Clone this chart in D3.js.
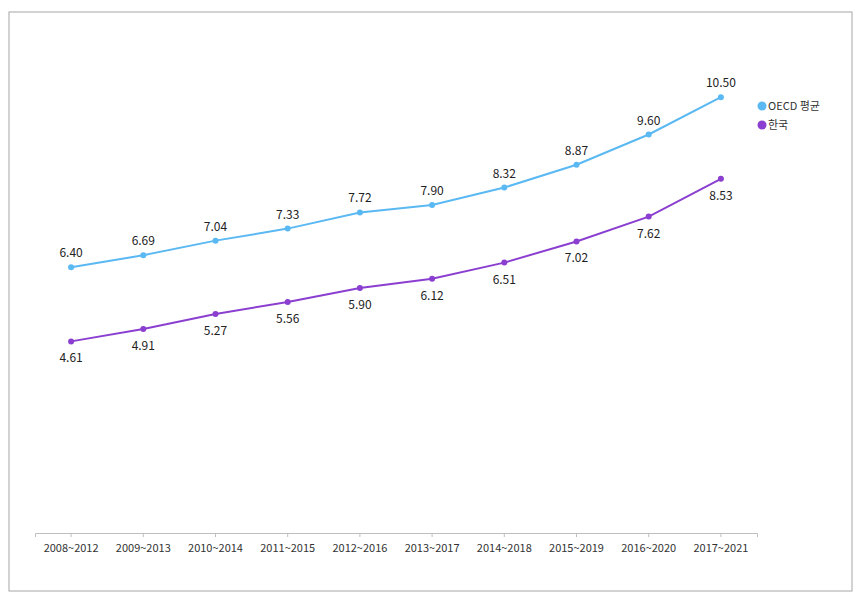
<!DOCTYPE html>
<html><head><meta charset="utf-8">
<script src="https://cdn.jsdelivr.net/npm/d3@7"></script>
<style>body{margin:0;background:#fff;}svg{display:block;}</style>
</head><body>
<svg id="c" width="860" height="596"></svg>
<script>
const categories = ["2008~2012","2009~2013","2010~2014","2011~2015","2012~2016","2013~2017","2014~2018","2015~2019","2016~2020","2017~2021"];
const oecd = [6.40,6.69,7.04,7.33,7.72,7.90,8.32,8.87,9.60,10.50];
const korea = [4.61,4.91,5.27,5.56,5.90,6.12,6.51,7.02,7.62,8.53];
const seriesNames = ["OECD 평균","한국"];
const colors = ["#5ab8f3","#8b3fd0"];

const svg = d3.select("#c");
const font = "'Malgun Gothic','Noto Sans CJK KR','Open Sans',sans-serif";
svg.append("rect").attr("x",9).attr("y",12).attr("width",843).attr("height",579)
  .attr("fill","#fff").attr("stroke","#a6a6a6").attr("stroke-width",1);

const x = d3.scaleBand().domain(categories).range([35,757]);
const y = d3.scaleLinear().domain([0,12]).range([532.5,35]);

const xAxis = svg.append("g").attr("transform","translate(0,533)")
  .call(d3.axisBottom(x).tickSize(4).tickPadding(7));
xAxis.select(".domain").attr("stroke","#bfbfbf");
xAxis.selectAll(".tick line").attr("stroke","#bfbfbf");
xAxis.selectAll("text").attr("font-family",font).attr("font-size","11px").attr("fill","#333");

const cx = d => x(d)+x.bandwidth()/2;
[oecd,korea].forEach((vals,i)=>{
  const line = d3.line().x((v,j)=>cx(categories[j])).y(v=>y(v));
  svg.append("path").datum(vals).attr("d",line).attr("fill","none")
    .attr("stroke",colors[i]).attr("stroke-width",2);
  svg.append("g").selectAll("circle").data(vals).join("circle")
    .attr("cx",(v,j)=>cx(categories[j])).attr("cy",v=>y(v)).attr("r",3)
    .attr("fill",colors[i]);
  svg.append("g").selectAll("text").data(vals).join("text")
    .attr("x",(v,j)=>cx(categories[j])).attr("y",v=> i===0 ? y(v)-10 : y(v)+21)
    .attr("text-anchor","middle").attr("font-family",font).attr("font-size","12px")
    .attr("fill","#222").text(v=>v.toFixed(2));
});

const lg = svg.append("g");
seriesNames.forEach((n,i)=>{
  lg.append("circle").attr("cx",762).attr("cy",106+i*19).attr("r",4.5).attr("fill",colors[i]);
  lg.append("text").attr("x",768).attr("y",110+i*19).attr("font-family",font)
    .attr("font-size","11px").attr("fill","#333").text(n);
});
</script>
</body></html>
